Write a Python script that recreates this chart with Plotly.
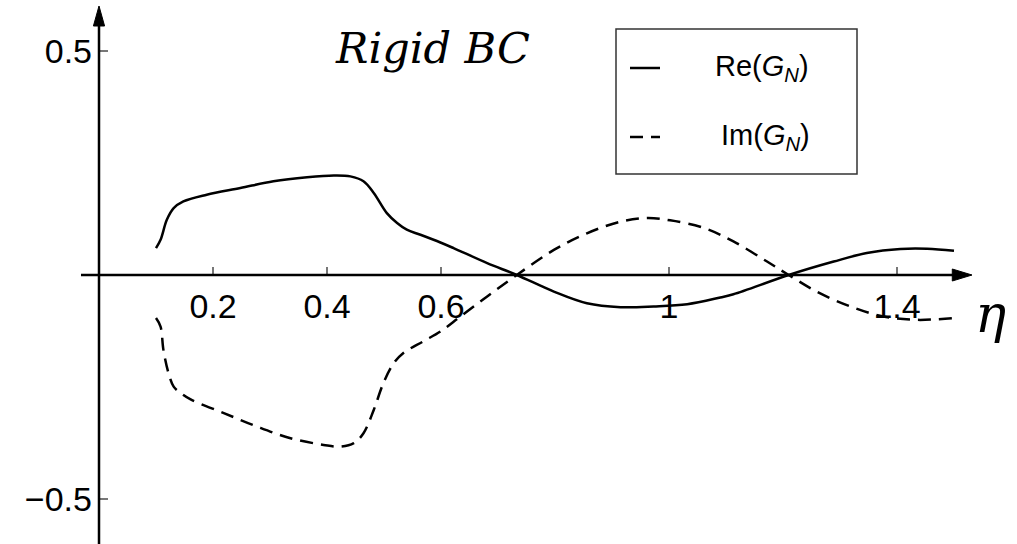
import plotly.graph_objects as go

# Re(G_N) and Im(G_N) versus eta
re_eta = [0.10, 0.108, 0.119, 0.131, 0.148, 0.189, 0.248, 0.306, 0.365, 0.412,
          0.441, 0.464, 0.482, 0.505, 0.523, 0.540, 0.564, 0.599, 0.622, 0.681,
          0.733, 0.798, 0.856, 0.915, 0.973, 1.032, 1.090, 1.113, 1.210, 1.289,
          1.347, 1.406, 1.453, 1.50]
re_g = [0.060, 0.0785, 0.123, 0.149, 0.164, 0.179, 0.194, 0.209, 0.218, 0.222,
        0.220, 0.209, 0.183, 0.138, 0.116, 0.101, 0.0897, 0.0725, 0.060, 0.0265,
        0.0, -0.037, -0.063, -0.0717, -0.070, -0.065, -0.050, -0.043, 0.0, 0.030,
        0.049, 0.058, 0.0585, 0.054]

im_eta = [0.10, 0.108, 0.113, 0.122, 0.131, 0.143, 0.160, 0.219, 0.277, 0.336,
          0.394, 0.423, 0.447, 0.464, 0.482, 0.499, 0.517, 0.534, 0.569, 0.599,
          0.634, 0.681, 0.733, 0.798, 0.856, 0.915, 0.961, 1.002, 1.061, 1.113,
          1.172, 1.210, 1.259, 1.318, 1.376, 1.435, 1.50]
im_g = [-0.096, -0.115, -0.167, -0.219, -0.249, -0.263, -0.277, -0.308, -0.338, -0.364,
        -0.379, -0.383, -0.375, -0.353, -0.301, -0.241, -0.197, -0.174, -0.148, -0.126,
        -0.0925, -0.048, 0.0, 0.056, 0.093, 0.119, 0.127, 0.122, 0.105, 0.075,
        0.030, 0.0, -0.037, -0.070, -0.0925, -0.100, -0.096]

x_ticks = [0.2, 0.4, 0.6, 1, 1.4]
x_tick_text = ["0.2", "0.4", "0.6", "1", "1.4"]
y_ticks = [-0.5, 0.5]
y_tick_text = ["\u22120.5", "0.5"]

W, H = 1017, 544
X_RANGE = [-0.17368, 1.61053]
Y_RANGE = [-0.6000, 0.6134]


def px(x):
    return x / W


def py(y):
    return 1 - y / H


# paper position of the origin
x0_paper = (0 - X_RANGE[0]) / (X_RANGE[1] - X_RANGE[0])
y0_paper = (0 - Y_RANGE[0]) / (Y_RANGE[1] - Y_RANGE[0])

fig = go.Figure()
fig.add_trace(go.Scatter(x=re_eta, y=re_g, mode="lines", name="Re",
                         line=dict(color="black", width=2.5, shape="spline", smoothing=1.0),
                         showlegend=False))
fig.add_trace(go.Scatter(x=im_eta, y=im_g, mode="lines", name="Im",
                         line=dict(color="black", width=2.5, shape="spline", smoothing=1.0,
                                   dash="13px,8px"),
                         showlegend=False))

tick_font = dict(family="Liberation Sans, Arial", size=34, color="black")

fig.update_layout(
    width=W, height=H,
    margin=dict(l=0, r=0, t=0, b=0),
    paper_bgcolor="white", plot_bgcolor="white",
    xaxis=dict(range=X_RANGE, anchor="free", position=y0_paper,
               showgrid=False, zeroline=False, showline=False,
               tickvals=x_ticks, ticktext=x_tick_text, ticks="inside",
               ticklen=8, tickwidth=2, tickcolor="#777777",
               tickfont=tick_font, ticklabelstandoff=8),
    yaxis=dict(range=Y_RANGE, anchor="free", position=x0_paper,
               showgrid=False, zeroline=False, showline=False,
               tickvals=y_ticks, ticktext=y_tick_text, ticks="inside",
               ticklen=8, tickwidth=2, tickcolor="#777777",
               tickfont=tick_font, ticklabelstandoff=7),
)

# axis lines with arrowheads
ax_col = "black"
fig.add_shape(type="line", xref="x", yref="y", x0=-0.0316, x1=1.50, y0=0, y1=0,
              line=dict(color=ax_col, width=2.5), layer="above")
fig.add_shape(type="path", xref="x", yref="y",
              path="M 1.497,0.0134 L 1.5316,0 L 1.497,-0.0134 Z",
              fillcolor=ax_col, line=dict(color=ax_col, width=1), layer="above")
fig.add_shape(type="line", xref="x", yref="y", x0=0, x1=0, y0=Y_RANGE[0], y1=0.56,
              line=dict(color=ax_col, width=2.5), layer="above")
fig.add_shape(type="path", xref="x", yref="y",
              path="M -0.0098,0.5554 L 0,0.6 L 0.0098,0.5554 Z",
              fillcolor=ax_col, line=dict(color=ax_col, width=1), layer="above")

# axis label and title
fig.add_annotation(x=px(990), y=py(314), xref="paper", yref="paper",
                   text="<i>η</i>", showarrow=False,
                   font=dict(family="DejaVu Serif", size=52, color="black"),
                   xanchor="center", yanchor="middle")
fig.add_annotation(x=px(432), y=py(48), xref="paper", yref="paper",
                   text="<i>Rigid BC</i>", showarrow=False,
                   font=dict(family="DejaVu Serif", size=43, color="black"),
                   xanchor="center", yanchor="middle")

# legend box
fig.add_shape(type="rect", xref="paper", yref="paper",
              x0=px(616), x1=px(857), y0=py(174), y1=py(29),
              line=dict(color="#333333", width=1.5), fillcolor="rgba(0,0,0,0)")
fig.add_shape(type="line", xref="paper", yref="paper",
              x0=px(630), x1=px(660), y0=py(68), y1=py(68),
              line=dict(color="black", width=2.5))
fig.add_shape(type="line", xref="paper", yref="paper",
              x0=px(630), x1=px(643), y0=py(137), y1=py(137),
              line=dict(color="black", width=2.5))
fig.add_shape(type="line", xref="paper", yref="paper",
              x0=px(651), x1=px(660), y0=py(137), y1=py(137),
              line=dict(color="black", width=2.5))
leg_font = dict(family="Liberation Sans, Arial", size=29, color="black")
fig.add_annotation(x=px(762), y=py(68), xref="paper", yref="paper",
                   text="Re(<i>G</i><sub><i>N</i></sub>)", showarrow=False,
                   font=leg_font, xanchor="center", yanchor="middle")
fig.add_annotation(x=px(765), y=py(137), xref="paper", yref="paper",
                   text="Im(<i>G</i><sub><i>N</i></sub>)", showarrow=False,
                   font=leg_font, xanchor="center", yanchor="middle")

fig.write_html("out.html")
